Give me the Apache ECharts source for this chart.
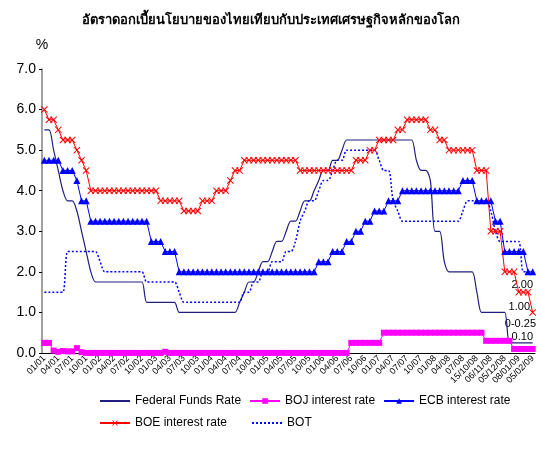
<!DOCTYPE html>
<html>
<head>
<meta charset="utf-8">
<script src="https://cdn.jsdelivr.net/npm/echarts@6.0.0/dist/echarts.min.js"></script>
<style>
  html, body { margin: 0; padding: 0; background: #fff; }
  #grafics { width: 541px; height: 454px; }
</style>
</head>
<body>
<div id="grafics"></div>
<script>
var categories = [
  '01/01','02/01','03/01','04/01','05/01','06/01','07/01','08/01','09/01','10/01','11/01','12/01',
  '01/02','02/02','03/02','04/02','05/02','06/02','07/02','08/02','09/02','10/02','11/02','12/02',
  '01/03','02/03','03/03','04/03','05/03','06/03','07/03','08/03','09/03','10/03','11/03','12/03',
  '01/04','02/04','03/04','04/04','05/04','06/04','07/04','08/04','09/04','10/04','11/04','12/04',
  '01/05','02/05','03/05','04/05','05/05','06/05','07/05','08/05','09/05','10/05','11/05','12/05',
  '01/06','02/06','03/06','04/06','05/06','06/06','07/06','08/06','09/06','10/06','11/06','12/06',
  '01/07','02/07','03/07','04/07','05/07','06/07','07/07','08/07','09/07','10/07','11/07','12/07',
  '01/08','02/08','03/08','04/08','05/08','06/08','07/08','08/08','09/08',
  '15/10/08','22/10/08','29/10/08','06/11/08','13/11/08','20/11/08','05/12/08','16/12/08','19/12/08',
  '08/01/09','21/01/09','27/01/09','05/02/09'
];

var fedRate = [
  5.5,5.5,5.0,4.5,4.0,3.75,3.75,3.5,3.0,2.5,2.0,
  1.75,1.75,1.75,1.75,1.75,1.75,1.75,1.75,1.75,1.75,1.75,
  1.25,1.25,1.25,1.25,1.25,1.25,1.25,
  1.0,1.0,1.0,1.0,1.0,1.0,1.0,1.0,1.0,1.0,1.0,1.0,1.0,
  1.25,1.5,1.75,1.75,2.0,2.25,2.25,2.5,2.75,2.75,3.0,3.25,3.25,3.5,3.75,3.75,4.0,4.25,4.5,4.5,4.75,4.75,5.0,
  5.25,5.25,5.25,5.25,5.25,5.25,5.25,5.25,5.25,5.25,5.25,5.25,5.25,5.25,5.25,
  4.75,4.5,4.5,4.25,3.0,3.0,2.25,
  2.0,2.0,2.0,2.0,2.0,2.0,
  1.5,
  1.0,1.0,1.0,1.0,1.0,1.0,
  0.25,0.25,0.25,0.25,0.25,0.25
];

var bojRate = [
  0.25,0.25,0.06,0.03,0.05,0.04,0.04,0.12,0.02,
  0.002,0.002,0.002,0.002,0.002,0.002,0.002,0.002,0.002,0.002,0.002,0.002,0.002,0.002,0.002,0.002,0.002,
  0.03,
  0.002,0.002,0.002,0.002,0.002,0.002,0.002,0.002,0.002,0.002,0.002,0.002,0.002,
  0.002,0.002,0.002,0.002,0.002,0.002,0.002,0.002,0.002,0.002,0.002,0.002,0.002,
  0.002,0.002,0.002,0.002,0.002,0.002,0.002,0.002,0.002,0.002,0.002,0.002,0.002,
  0.25,0.25,0.25,0.25,0.25,0.25,0.25,
  0.5,0.5,0.5,0.5,0.5,0.5,0.5,0.5,0.5,0.5,0.5,0.5,0.5,0.5,0.5,0.5,0.5,0.5,0.5,0.5,0.5,0.5,
  0.3,0.3,0.3,0.3,0.3,0.3,
  0.1,0.1,0.1,0.1,0.1
];

var ecbRate = [
  4.75,4.75,4.75,4.75,4.5,4.5,4.5,4.25,3.75,3.75,
  3.25,3.25,3.25,3.25,3.25,3.25,3.25,3.25,3.25,3.25,3.25,3.25,3.25,
  2.75,2.75,2.75,2.5,2.5,2.5,
  2.0,2.0,2.0,2.0,2.0,2.0,2.0,2.0,2.0,2.0,2.0,2.0,2.0,2.0,2.0,
  2.0,2.0,2.0,2.0,2.0,2.0,2.0,2.0,2.0,2.0,2.0,2.0,2.0,2.0,2.0,
  2.25,2.25,2.25,2.5,2.5,2.5,2.75,2.75,3.0,3.0,3.25,3.25,3.5,3.5,3.5,3.75,3.75,3.75,
  4.0,4.0,4.0,4.0,4.0,4.0,4.0,4.0,4.0,4.0,4.0,4.0,4.0,
  4.25,4.25,4.25,
  3.75,3.75,3.75,3.75,3.25,3.25,
  2.5,2.5,2.5,2.5,2.5,2.0,2.0
];

var boeRate = [
  6.0,5.75,5.75,5.5,5.25,5.25,5.25,5.0,4.75,4.5,
  4.0,4.0,4.0,4.0,4.0,4.0,4.0,4.0,4.0,4.0,4.0,4.0,4.0,4.0,4.0,
  3.75,3.75,3.75,3.75,3.75,3.5,3.5,3.5,3.5,3.75,3.75,3.75,4.0,4.0,4.0,4.25,4.5,4.5,
  4.75,4.75,4.75,4.75,4.75,4.75,4.75,4.75,4.75,4.75,4.75,4.75,
  4.5,4.5,4.5,4.5,4.5,4.5,4.5,4.5,4.5,4.5,4.5,4.5,
  4.75,4.75,4.75,5.0,5.0,5.25,5.25,5.25,5.25,5.5,5.5,
  5.75,5.75,5.75,5.75,5.75,5.5,5.5,5.25,5.25,
  5.0,5.0,5.0,5.0,5.0,5.0,
  4.5,4.5,4.5,3.0,3.0,3.0,2.0,2.0,2.0,1.5,1.5,1.5,1.0
];

var botRate = [
  1.5,1.5,1.5,1.5,1.5,2.5,2.5,2.5,2.5,2.5,2.5,2.5,2.25,
  2.0,2.0,2.0,2.0,2.0,2.0,2.0,2.0,2.0,
  1.75,1.75,1.75,1.75,1.75,1.75,1.75,1.5,
  1.25,1.25,1.25,1.25,1.25,1.25,1.25,1.25,1.25,1.25,1.25,1.25,1.25,
  1.5,1.5,1.75,1.75,2.0,2.0,2.25,2.25,2.25,2.5,2.5,2.75,3.25,3.5,3.75,3.75,4.0,4.25,4.25,4.5,4.75,4.75,
  5.0,5.0,5.0,5.0,5.0,5.0,5.0,
  4.75,4.5,4.5,3.75,3.5,
  3.25,3.25,3.25,3.25,3.25,3.25,3.25,3.25,3.25,3.25,3.25,3.25,3.25,
  3.5,3.75,3.75,3.75,3.75,3.75,3.5,3.0,
  2.75,2.75,2.75,2.75,2.75,2.0,2.0,2.0
];

var yTicks = [0, 1, 2, 3, 4, 5, 6, 7];
var endNotes = ['2.00', '1.00', '0-0.25', '0.10'];

var crossIcon = 'path://M0,1L1,0L5,4L9,0L10,1L6,5L10,9L9,10L5,6L1,10L0,9L4,5Z';
var txtFont = 'Liberation Sans, Arial, sans-serif';

var dom = document.getElementById('grafics');
var myChart = echarts.init(dom, null, { renderer: 'canvas' });

var option = {
  backgroundColor: '#ffffff',
  animation: false,
  title: {
    text: 'อัตราดอกเบี้ยนโยบายของไทยเทียบกับประเทศเศรษฐกิจหลักของโลก',
    left: 'center',
    top: 9,
    textStyle: { fontSize: 13, fontWeight: 'bold', color: '#000', fontFamily: 'Noto Sans, DejaVu Sans, sans-serif' }
  },
  legend: [
    {
      data: [
        { name: 'Federal Funds Rate', itemStyle: { opacity: 0 } },
        'BOJ interest rate',
        'ECB interest rate'
      ],
      left: 94, top: 390,
      itemWidth: 30, itemHeight: 7, itemGap: 8,
      textStyle: { fontSize: 12, color: '#000', fontFamily: txtFont }
    },
    {
      data: [
        'BOE interest rate',
        { name: 'BOT', itemStyle: { opacity: 0 } }
      ],
      left: 94, top: 412,
      itemWidth: 30, itemHeight: 7, itemGap: 24,
      textStyle: { fontSize: 12, color: '#000', fontFamily: txtFont }
    }
  ],
  grid: { left: 42, right: 6, top: 69, bottom: 101 },
  xAxis: {
    type: 'category',
    data: categories,
    boundaryGap: true,
    axisLine: { lineStyle: { color: '#000', width: 1 } },
    axisTick: { interval: 0, length: 3, lineStyle: { color: '#000' } },
    axisLabel: {
      interval: 2, rotate: 45, fontSize: 9, color: '#000', margin: 4,
      fontFamily: txtFont
    },
    splitLine: { show: false }
  },
  yAxis: {
    type: 'value',
    min: yTicks[0],
    max: yTicks[yTicks.length - 1],
    interval: 1,
    name: '%',
    nameLocation: 'end',
    nameGap: 17,
    nameTextStyle: { fontSize: 14, color: '#000', align: 'center', fontFamily: txtFont },
    axisLine: { show: true, lineStyle: { color: '#808080', width: 1.5 } },
    axisTick: { show: true, length: 3, lineStyle: { color: '#000' } },
    axisLabel: {
      fontSize: 14, color: '#000', margin: 6,
      fontFamily: txtFont,
      formatter: function (v) { return v.toFixed(1); }
    },
    splitLine: { show: false }
  },
  series: [
    {
      name: 'Federal Funds Rate',
      type: 'line',
      data: fedRate,
      smooth: 0.3,
      showSymbol: false,
      lineStyle: { color: '#1f1f80', width: 1.2 },
      itemStyle: { color: '#1f1f80' }
    },
    {
      name: 'BOJ interest rate',
      type: 'line',
      data: bojRate,
      symbol: 'rect',
      symbolSize: 6,
      showAllSymbol: true,
      lineStyle: { color: '#ff00ff', width: 1 },
      itemStyle: { color: '#ff00ff' }
    },
    {
      name: 'ECB interest rate',
      type: 'line',
      data: ecbRate,
      symbol: 'triangle',
      symbolSize: 7,
      showAllSymbol: true,
      lineStyle: { color: '#0000ff', width: 1 },
      itemStyle: { color: '#0000ff' }
    },
    {
      name: 'BOE interest rate',
      type: 'line',
      data: boeRate,
      symbol: crossIcon,
      symbolSize: 7,
      showAllSymbol: true,
      lineStyle: { color: '#ff0000', width: 1 },
      itemStyle: { color: '#ff0000' }
    },
    {
      name: 'BOT',
      type: 'line',
      data: botRate,
      smooth: 0.3,
      showSymbol: false,
      lineStyle: { color: '#0000ff', width: 1.5, type: [2, 2] },
      itemStyle: { color: '#0000ff' }
    }
  ],
  graphic: [
    { type: 'text', right: 8, top: 279, style: { text: endNotes[0], fontSize: 11, fill: '#000', fontFamily: txtFont } },
    { type: 'text', right: 11, top: 301, style: { text: endNotes[1], fontSize: 11, fill: '#000', fontFamily: txtFont } },
    { type: 'text', right: 5, top: 318, style: { text: endNotes[2], fontSize: 11, fill: '#000', fontFamily: txtFont } },
    { type: 'text', right: 8, top: 331, style: { text: endNotes[3], fontSize: 11, fill: '#000', fontFamily: txtFont } }
  ]
};

if (option && typeof option === 'object') {
  myChart.setOption(option);
}

window.addEventListener('resize', myChart.resize);
</script>
</body>
</html>
